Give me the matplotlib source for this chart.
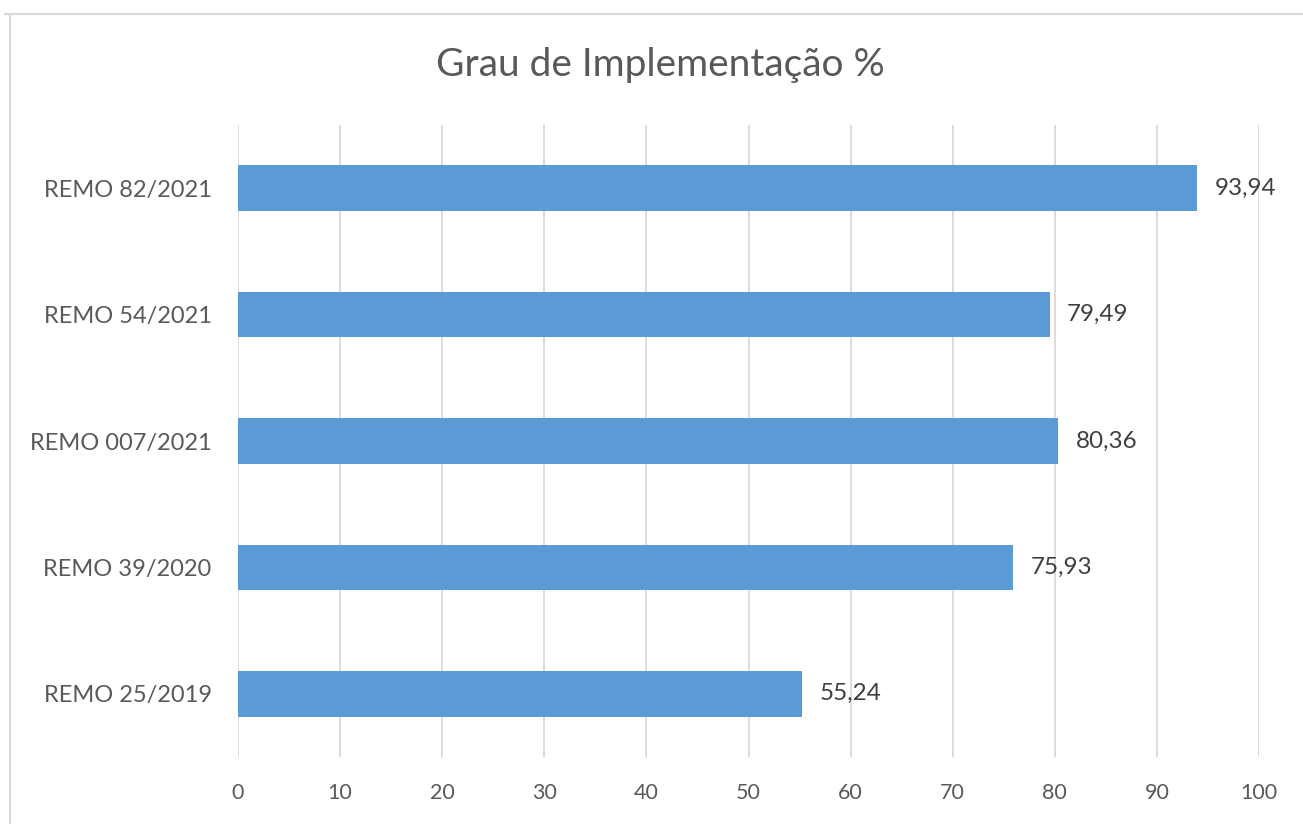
import matplotlib.pyplot as plt
from matplotlib.lines import Line2D

categories = ["REMO 25/2019", "REMO 39/2020", "REMO 007/2021", "REMO 54/2021", "REMO 82/2021"]
values = [55.24, 75.93, 80.36, 79.49, 93.94]
x_ticks = [0, 10, 20, 30, 40, 50, 60, 70, 80, 90, 100]

plt.rcParams["font.family"] = ["Lato", "DejaVu Sans"]

fig = plt.figure(figsize=(13.03, 8.24), dpi=100)
ax = fig.add_axes([0.1827, 0.0813, 0.7835, 0.767])

bars = ax.barh(range(len(categories)), values, height=0.36, color="#5B9BD5", zorder=3)
for bar, v in zip(bars, values):
    ax.text(bar.get_width() + 1.7, bar.get_y() + bar.get_height() / 2,
            f"{v:.2f}".replace(".", ","), va="center", ha="left",
            fontsize=17.5, color="#404040")

ax.set_xlim(0, 100)
ax.set_ylim(-0.5, len(categories) - 0.5)
ax.set_xticks(x_ticks)
ax.set_yticks(range(len(categories)))
ax.set_yticklabels(categories)
ax.grid(axis="x", color="#D9D9D9", linewidth=1.3, zorder=0)
ax.tick_params(axis="both", length=0, colors="#595959")
ax.tick_params(axis="x", pad=19, labelsize=15.5)
ax.tick_params(axis="y", pad=19, labelsize=17)
for s in ax.spines.values():
    s.set_visible(False)

fig.suptitle("Grau de Implementação %", x=0.507, y=0.943, fontsize=28, color="#595959")

# chart frame (left and top edges)
fig.add_artist(Line2D([10 / 1303, 10 / 1303], [0, 1 - 14 / 824], color="#D9D9D9", lw=1.5))
fig.add_artist(Line2D([5 / 1303, 1], [1 - 14 / 824, 1 - 14 / 824], color="#D9D9D9", lw=1.5))

fig.savefig("out.png", dpi=100)
